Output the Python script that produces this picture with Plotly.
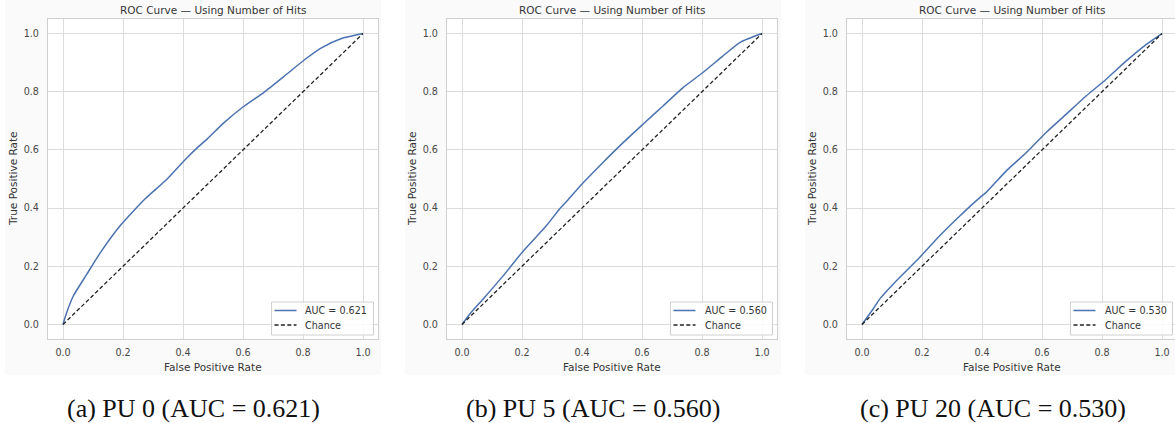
import plotly.graph_objects as go

# ROC curves (false positive rate, true positive rate) for three pile-up settings
fpr_pu0 = [0.0, 0.012, 0.034, 0.079, 0.124, 0.191, 0.235, 0.274, 0.347, 0.402,
           0.447, 0.481, 0.536, 0.603, 0.670, 0.736, 0.804, 0.860, 0.926, 1.0]
tpr_pu0 = [0.0, 0.040, 0.097, 0.172, 0.246, 0.340, 0.390, 0.432, 0.500, 0.561,
           0.607, 0.638, 0.693, 0.750, 0.798, 0.852, 0.909, 0.950, 0.982, 1.0]

fpr_pu5 = [0.0, 0.026, 0.070, 0.137, 0.203, 0.281, 0.326, 0.353, 0.403, 0.470,
           0.537, 0.603, 0.670, 0.737, 0.803, 0.870, 0.926, 1.0]
tpr_pu5 = [0.0, 0.036, 0.087, 0.167, 0.251, 0.339, 0.398, 0.428, 0.486, 0.557,
           0.625, 0.688, 0.751, 0.814, 0.866, 0.923, 0.969, 1.0]

fpr_pu20 = [0.0, 0.037, 0.059, 0.126, 0.192, 0.259, 0.326, 0.387, 0.414, 0.481,
            0.548, 0.614, 0.681, 0.748, 0.814, 0.881, 0.948, 1.0]
tpr_pu20 = [0.0, 0.053, 0.087, 0.162, 0.230, 0.305, 0.373, 0.431, 0.454, 0.528,
            0.591, 0.660, 0.723, 0.786, 0.843, 0.906, 0.963, 1.0]

auc_values = [0.621, 0.560, 0.530]
pileup_labels = ["0", "5", "20"]
panel_letters = ["a", "b", "c"]
chance_line = [0.0, 1.0]
tick_values = [0.0, 0.2, 0.4, 0.6, 0.8, 1.0]
tick_text = ["0.0", "0.2", "0.4", "0.6", "0.8", "1.0"]

curves = [(fpr_pu0, tpr_pu0), (fpr_pu5, tpr_pu5), (fpr_pu20, tpr_pu20)]

W, H = 1175, 423
plot_left = [48, 447, 847]
plot_right = [378, 777, 1175]
frame_right = [378, 777, 1177]
plot_top, plot_bottom = 19, 339
px_per_unit = 300.0
panel_bg = [(5, 381), (405, 781), (805, 1175)]
caption_x = [193, 592.5, 992.5]


def px(x):
    return x / W


def py(y):
    return (H - y) / H


TEXT = "#353535"
TICK = "#474747"
GRID = "#dcdcdc"
FRAME = "#cfcfcf"
BLUE = "#4c72b0"
DARK = "#222222"
SANS = "DejaVu Sans"

fig = go.Figure()
shapes = []
annotations = []


def paper_text(text, x, y, size, color=TEXT, family=SANS, **kw):
    d = dict(text=text, x=px(x), y=py(y), xref="paper", yref="paper",
             showarrow=False, xanchor="center", yanchor="middle",
             font=dict(family=family, size=size, color=color))
    d.update(kw)
    annotations.append(d)


for i, (fpr, tpr) in enumerate(curves):
    n = "" if i == 0 else str(i + 1)
    xa, ya = "x" + n, "y" + n
    curve_name = f"AUC = {auc_values[i]:.3f}"
    fig.add_trace(go.Scatter(
        x=fpr, y=tpr, mode="lines", name=curve_name,
        line=dict(color=BLUE, width=1.5, shape="spline", smoothing=0.6),
        xaxis=xa, yaxis=ya))
    fig.add_trace(go.Scatter(
        x=chance_line, y=chance_line, mode="lines", name="Chance",
        line=dict(color=DARK, width=1.3, dash="4px,2.4px"),
        xaxis=xa, yaxis=ya))

    width_px = plot_right[i] - plot_left[i]
    xr = [-0.05, -0.05 + width_px / px_per_unit]
    axis_common = dict(
        showgrid=True, gridcolor=GRID, gridwidth=1, zeroline=False,
        showline=True, linecolor=FRAME, linewidth=1.2,
        tickvals=tick_values, ticktext=tick_text, ticks="",
        tickfont=dict(family=SANS, size=9.6, color=TICK), fixedrange=True)
    fig.update_layout(**{
        "xaxis" + n: dict(axis_common, domain=[px(plot_left[i]), px(plot_right[i])],
                          range=xr, anchor=ya, mirror=True, ticklabelstandoff=4),
        "yaxis" + n: dict(axis_common, domain=[py(plot_bottom), py(plot_top)],
                          range=[-0.05, 1.05], anchor=xa,
                          mirror=(i < 2), ticklabelstandoff=6),
    })

    # panel background and white plotting area
    shapes.append(dict(type="rect", xref="paper", yref="paper", layer="below",
                       x0=px(panel_bg[i][0]), x1=px(panel_bg[i][1]),
                       y0=py(375), y1=1.0, fillcolor="#fafafa", line=dict(width=0)))
    shapes.append(dict(type="rect", xref="paper", yref="paper", layer="below",
                       x0=px(plot_left[i]), x1=px(plot_right[i]),
                       y0=py(plot_bottom), y1=py(plot_top), fillcolor="white",
                       line=dict(width=0)))

    # legend box in the lower-right corner of each panel
    box_r = frame_right[i] - 4.5
    box_l = box_r - 102
    box_t, box_b = 302, 335
    rows = [310.5, 325.0]
    shapes.append(dict(type="rect", xref="paper", yref="paper", layer="above",
                       x0=px(box_l), x1=px(box_r), y0=py(box_b), y1=py(box_t),
                       fillcolor="rgba(255,255,255,0.85)",
                       line=dict(color="#d0d0d0", width=1)))
    shapes.append(dict(type="line", xref="paper", yref="paper", layer="above",
                       x0=px(box_l + 3), x1=px(box_l + 25), y0=py(rows[0]), y1=py(rows[0]),
                       line=dict(color=BLUE, width=1.5)))
    shapes.append(dict(type="line", xref="paper", yref="paper", layer="above",
                       x0=px(box_l + 3), x1=px(box_l + 25), y0=py(rows[1]), y1=py(rows[1]),
                       line=dict(color=DARK, width=1.3, dash="4px,2.4px")))
    paper_text(curve_name, box_l + 32, rows[0], 9.6, xanchor="left")
    paper_text("Chance", box_l + 32, rows[1], 9.6, xanchor="left")

    cx = plot_left[i] + 165
    cy = (plot_top + plot_bottom) / 2
    paper_text("ROC Curve — Using Number of Hits", cx, 10, 10.5)
    paper_text("False Positive Rate", cx, 366.5, 10.5)
    paper_text("True Positive Rate", plot_left[i] - 35, cy, 10.5, textangle=-90)
    paper_text(f"({panel_letters[i]}) PU {pileup_labels[i]} (AUC = {auc_values[i]:.3f})",
               caption_x[i], 408, 26, color="#111111", family="Liberation Serif")

fig.update_layout(
    width=W, height=H, margin=dict(l=0, r=0, t=0, b=0),
    paper_bgcolor="white", plot_bgcolor="rgba(0,0,0,0)",
    shapes=shapes, annotations=annotations, showlegend=False,
)

fig.write_html("out.html")
